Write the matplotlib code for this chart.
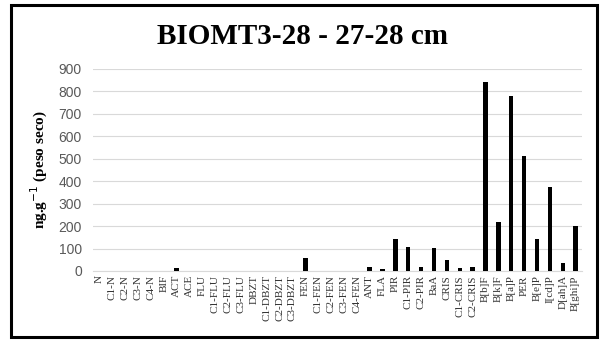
import matplotlib
matplotlib.use("Agg")
import matplotlib.pyplot as plt
from matplotlib.patches import Rectangle

categories = ["N", "C1-N", "C2-N", "C3-N", "C4-N", "BIF", "ACT", "ACE", "FLU",
              "C1-FLU", "C2-FLU", "C3-FLU", "DBZT", "C1-DBZT", "C2-DBZT", "C3-DBZT",
              "FEN", "C1-FEN", "C2-FEN", "C3-FEN", "C4-FEN", "ANT", "FLA", "PIR",
              "C1-PIR", "C2-PIR", "BaA", "CRIS", "C1-CRIS", "C2-CRIS", "B[b]F",
              "B[k]F", "B[a]P", "PER", "B[e]P", "I[cd]P", "D[ah]A", "B[ghi]P"]
values = [0, 0, 0, 0, 0, 0, 15, 0, 0,
          0, 0, 0, 0, 0, 0, 0,
          60, 0, 0, 0, 0, 19, 7, 144,
          108, 16, 101, 49, 12, 16, 843,
          217, 780, 514, 141, 373, 36, 200]
yticks = [0, 100, 200, 300, 400, 500, 600, 700, 800, 900]

fig = plt.figure(figsize=(6.05, 3.41), dpi=100)
ax = fig.add_axes([93/605, 1-271/341, (582-93)/605, (271-69)/341])

x = list(range(len(categories)))
ax.bar(x, values, width=0.34, color="black", zorder=3)
ax.set_xlim(-0.5, len(categories) - 0.5)
ax.set_ylim(0, 900)
ax.set_yticks(yticks)
ax.yaxis.grid(True, color="#d9d9d9", linewidth=0.8, zorder=0)
for s in ["top", "right", "left"]:
    ax.spines[s].set_visible(False)
ax.spines["bottom"].set_color("#d9d9d9")
ax.tick_params(axis="both", length=0)
ax.tick_params(axis="y", labelcolor="#595959", labelsize=10, pad=8)
for lab in ax.get_yticklabels():
    lab.set_fontfamily("Liberation Sans")
ax.set_xticks(x)
ax.set_xticklabels(categories, rotation=90, fontsize=8, family="Liberation Serif",
                   color="#333333")
ax.tick_params(axis="x", pad=3)

ax.set_ylabel("ng.g$^{-1}$ (peso seco)", fontsize=11, fontweight="bold",
              family="Liberation Serif", labelpad=6)

fig.text(0.5, 1-37/341, "BIOMT3-28 - 27-28 cm", ha="center", va="center",
         fontsize=21, fontweight="bold", family="Liberation Serif")

fig.patches.append(Rectangle((11/605, 1-337/341), (597-11)/605, (337-5)/341,
                             transform=fig.transFigure, fill=False,
                             edgecolor="black", linewidth=2.2))

fig.savefig("out.png", dpi=100, facecolor="white")
